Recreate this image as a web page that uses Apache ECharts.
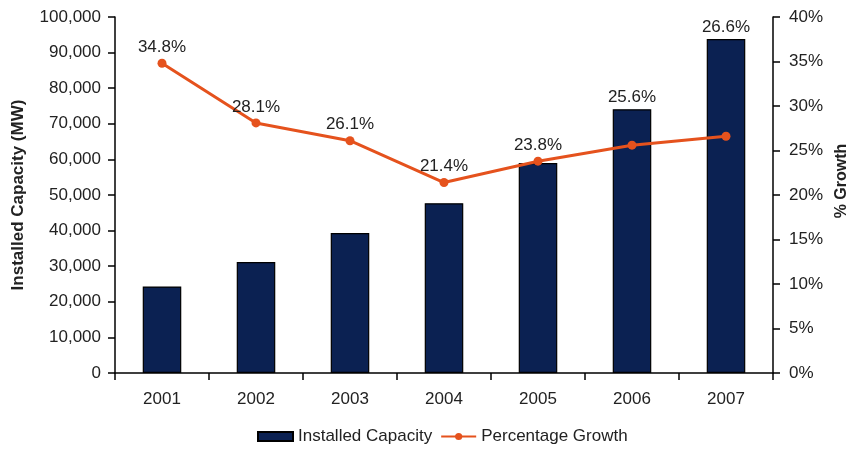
<!DOCTYPE html>
<html><head><meta charset="utf-8">
<script src="https://cdn.jsdelivr.net/npm/echarts@6/dist/echarts.min.js"></script>
<style>html,body{margin:0;padding:0;background:#fff}#c{width:851px;height:459px}</style>
</head><body><div id="c"></div>
<script>
var years = ['2001','2002','2003','2004','2005','2006','2007'];
var capacity = [24300, 31200, 39300, 47700, 59000, 74100, 93800];
var growth = [34.8, 28.1, 26.1, 21.4, 23.8, 25.6, 26.6];
var labelOnBar = [false, false, false, false, false, true, true];

var txt = '#222';
var font = 'Liberation Sans';
var chart = echarts.init(document.getElementById('c'));
chart.setOption({
  animation: false,
  textStyle: {fontFamily: font},
  grid: {left: 115, right: 78, top: 17, bottom: 86, containLabel: false, outerBoundsMode: 'none'},
  legend: {
    bottom: 9, left: 252, itemWidth: 35, itemHeight: 9, itemGap: 8,
    textStyle: {fontSize: 17, color: txt, fontFamily: font},
    data: [{name: 'Installed Capacity', icon: 'rect'}, {name: 'Percentage Growth'}]
  },
  xAxis: {
    type: 'category', data: years,
    axisLine: {lineStyle: {color: '#000', width: 1.5}},
    axisTick: {show: true, length: 7, lineStyle: {color: '#000', width: 1.5}},
    axisLabel: {fontSize: 17, color: txt, margin: 18}
  },
  yAxis: [{
    type: 'value', min: 0, max: 100000, interval: 10000,
    name: 'Installed Capacity (MW)', nameLocation: 'middle', nameRotate: 90, nameGap: 88,
    nameTextStyle: {fontSize: 17, fontWeight: 'bold', color: txt},
    axisLine: {show: true, lineStyle: {color: '#000', width: 1.5}},
    axisTick: {show: true, length: 7, lineStyle: {color: '#000', width: 1.5}},
    splitLine: {show: false},
    axisLabel: {fontSize: 17, color: txt, margin: 14,
      formatter: function (v) { return v.toLocaleString('en-US'); }}
  }, {
    type: 'value', min: 0, max: 40, interval: 5, position: 'right',
    name: '% Growth', nameLocation: 'middle', nameRotate: 90, nameGap: 61,
    nameTextStyle: {fontSize: 16, fontWeight: 'bold', color: txt, padding: [0, 0, 0, 28]},
    axisLine: {show: true, lineStyle: {color: '#000', width: 1.5}},
    axisTick: {show: true, length: 7, lineStyle: {color: '#000', width: 1.5}},
    splitLine: {show: false},
    axisLabel: {fontSize: 17, color: txt, margin: 16, formatter: '{value}%'}
  }],
  series: [{
    name: 'Installed Capacity', type: 'bar', barWidth: '41%',
    data: capacity.map(function (v, i) {
      return {value: v, label: {show: labelOnBar[i]}};
    }),
    itemStyle: {color: '#0b2152', borderColor: '#000', borderWidth: 1.2},
    label: {position: 'top', distance: 3, fontSize: 17, color: txt,
      formatter: function (p) { return growth[p.dataIndex].toFixed(1) + '%'; }}
  }, {
    name: 'Percentage Growth', type: 'line', yAxisIndex: 1,
    data: growth.map(function (v, i) {
      return {value: v, label: {show: !labelOnBar[i]}};
    }),
    lineStyle: {color: '#e5521d', width: 3},
    itemStyle: {color: '#e5521d'},
    symbol: 'circle', symbolSize: 9,
    label: {position: 'top', distance: 3, fontSize: 17, color: txt,
      formatter: function (p) { return p.value.toFixed(1) + '%'; }}
  }]
});
</script></body></html>
